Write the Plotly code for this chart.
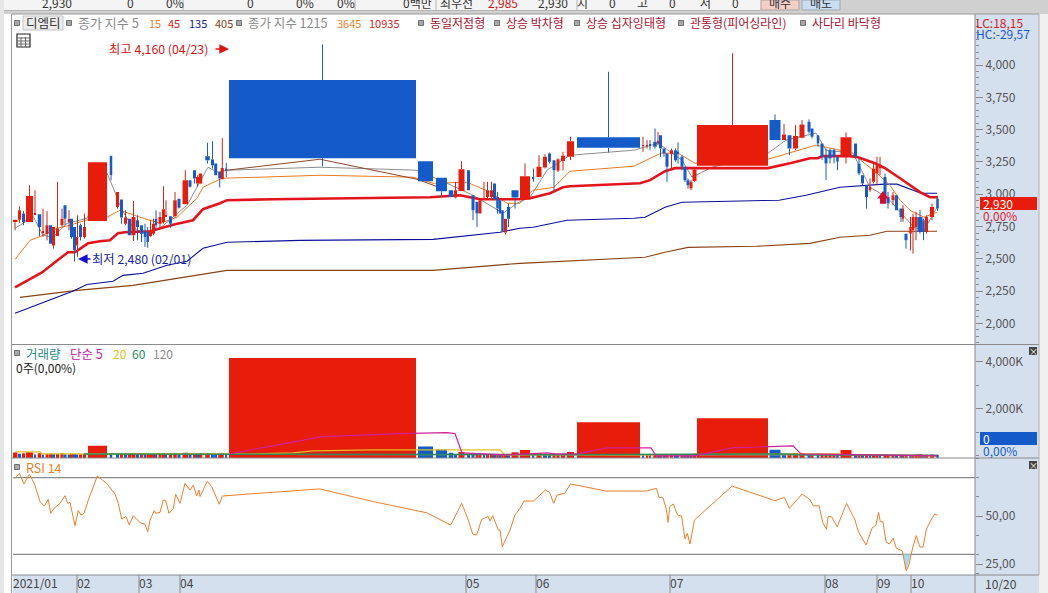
import plotly.graph_objects as go

# ---------- candle data (equivolume axis position, width, OHLC, volume in K) ----------
eq_x = [15,19.5,23.5,29.5,35,39.5,43,47,50.5,53.5,57.5,62,65,69,71.5,74.5,77.5,80.5,84.5,97.5,
        111,117.5,121.5,125.5,129.5,133.5,137.5,141.5,145,147.7,150.5,153.5,156,160,163.5,166,170.5,175,179,185.3,
        190,194.5,197.5,200.5,207.5,212.5,215.7,219.7,222.3,226.3,322.5,425.5,441.5,451,455.5,461.5,468.5,473,477,480,
        484,487.5,491.5,494.5,497.5,500,502.5,505.5,508.5,515,525,533.5,539,545,549.5,554,558,563,570.5,608.5,
        643,647,650,655,658,660.5,664,667,671.5,675.5,678,682,685,688,691,694.5,732.5,775,784,789.5,
        795.5,802,809,812,818,822,826,830,834,837.5,846,855.5,859,862.5,866.5,870,873.5,877,880,885,
        888,893,896.5,901,903,906,910.5,913,916,920,923.5,926.5,932,937.5]
eq_w = [5,3,3,7,1,3.5,1,3,3,3,3,3,3,2.5,3,3,1.5,3,3,19,
        2.5,3,3,3,3.5,4,3,3,2.5,2.5,3,3,2.5,3,3,1,3,3.5,3,5.5,
        3,3,3,3.5,4.5,3,3,3,3,1.5,187,15,11,4.5,3,6,3,3,3,3,
        1.5,3,3,3,2.5,2.5,2.5,3,3,7,10,1.5,5,4,3,3,3,4,7,63,
        2,2,2,3.5,1,3,3,3,3,3,1.5,3,3,3,3,4,71,11,4,4,
        5,5,3,3,2.5,3,3,3,3,2.5,11,3,3,3,3,2.5,3,3,2,3,
        3,3,3,3,2,3,2.5,2.5,3,5,2.5,3,4,2.5]
price_open = [2785,2803,2850,2785,2845,2845,2700,2690,2760,2604,2677,2760,2915,2785,2811,2747,2604,2760,2669,2793,
        3297,2902,2959,2772,2811,2682,2798,2760,2708,2708,2674,2695,2811,2772,2785,2830,2829,2829,2966,2922,
        3108,3186,3083,3083,3294,3269,3238,3173,3116,3199,3884,3256,3127,3031,2974,3026,3186,2992,2941,2850,
        2960,2979,2979,3083,2979,2954,2876,2703,2902,3031,2959,3130,3134,3207,3315,3264,3181,3258,3290,3442,
        3375,3375,3385,3406,3400,3457,3354,3315,3310,3341,3330,3290,3212,3109,3044,3103,3220,3574,3419,3457,
        3354,3437,3561,3509,3457,3393,3290,3341,3341,3290,3302,3393,3238,3147,3070,3031,3096,3160,3199,3134,
        2979,2954,2992,2889,2811,2695,2695,2721,2747,2824,2799,2708,2824,2967]
price_high = [2803,2907,2871,3070,3031,2845,2889,2868,2760,2747,3095,2889,2915,2876,2811,2747,2837,2772,2850,3248,
        3297,3018,2959,2876,2811,2948,2837,2760,2772,2747,2798,2811,2876,2863,3062,2953,2829,3018,2966,3186,
        3108,3186,3147,3160,3398,3411,3238,3173,3434,3243,4160,3256,3127,3031,3096,3256,3186,2992,2941,2954,
        3096,3096,3096,3083,3018,2954,2876,2811,2928,3031,3238,3199,3302,3310,3323,3264,3277,3328,3445,3948,
        3445,3419,3419,3509,3483,3457,3354,3315,3354,3354,3401,3302,3212,3122,3109,3199,4091,3618,3543,3457,
        3535,3574,3579,3509,3457,3393,3354,3354,3354,3290,3478,3393,3277,3147,3070,3122,3238,3290,3290,3160,
        3018,3018,2992,2889,2915,2695,2824,2850,2863,2876,2811,2837,2928,2979]
price_low = [2721,2778,2760,2785,2837,2674,2669,2643,2617,2579,2677,2747,2760,2721,2656,2480,2515,2643,2656,2793,
        3108,2889,2772,2760,2682,2638,2643,2630,2592,2586,2669,2682,2721,2734,2772,2824,2741,2819,2889,2922,
        3052,3083,3057,3078,3238,3199,3147,3052,3116,3134,3217,3101,2979,2979,2967,3026,3031,2799,2747,2850,
        2954,2961,2961,2954,2850,2850,2708,2690,2747,2889,2959,3096,3134,3199,3238,3018,3173,3186,3264,3323,
        3328,3354,3341,3354,3380,3290,3290,3096,3186,3251,3238,3186,3096,3044,3031,3096,3220,3419,3419,3302,
        3341,3432,3470,3432,3367,3264,3109,3238,3238,3186,3238,3277,3147,3070,2889,3018,3083,3070,3147,2979,
        2889,2915,2876,2786,2786,2579,2566,2540,2644,2695,2644,2695,2799,2871]
price_close = [2803,2876,2785,2987,2845,2747,2710,2760,2617,2747,2734,2811,2811,2811,2669,2566,2669,2669,2747,3248,
        3147,3018,2819,2819,2682,2824,2747,2695,2669,2630,2721,2772,2760,2824,2884,2840,2772,2953,2896,3108,
        3057,3121,3134,3160,3263,3225,3147,3121,3204,3186,3279,3101,3023,2979,3031,3194,3031,2876,2850,2954,
        2965,3031,3031,2961,2889,2850,2708,2811,2811,2974,3140,3120,3212,3290,3251,3186,3271,3297,3411,3359,
        3380,3380,3375,3367,3410,3354,3315,3212,3341,3264,3310,3212,3109,3070,3096,3191,3535,3419,3463,3354,
        3450,3540,3483,3445,3393,3290,3238,3277,3290,3251,3442,3290,3160,3083,2979,3057,3199,3225,3225,2992,
        2928,2992,2876,2824,2889,2644,2747,2824,2824,2708,2708,2824,2902,2889]
volume_k = [140,90,110,150,60,110,60,80,90,80,80,110,70,60,90,80,60,70,90,430,
        100,90,100,70,90,110,80,90,60,60,70,80,60,90,100,50,90,110,70,130,
        60,90,70,110,110,70,60,70,120,50,4160,400,270,130,60,170,90,60,70,80,
        40,60,70,60,70,60,70,70,60,150,250,40,110,60,50,70,70,80,170,1430,
        30,30,40,60,20,70,60,70,70,50,30,60,50,60,40,90,1600,260,90,90,
        120,120,70,70,60,60,60,70,70,50,250,70,70,60,60,40,50,50,30,50,
        50,50,40,50,40,50,40,50,60,70,40,50,60,50]

# ---------- moving averages of price ----------
ma5_x = [15,25,30,43,53,67,87,107,115,122,133,147,160,173,187,197,208,217,227,320,417,447,473,503,517,530,547,570,634,658,682,692,712,768,786,816,826,853,863,870,887,901,914,924,937]
ma5_y = [2737,2783,2876,2682,2667,2775,2814,3163,3016,2876,2744,2682,2737,2822,2915,3054,3209,3171,3186,3209,3186,3085,2992,2853,2930,2977,3186,3302,3341,3395,3264,3132,3209,3318,3419,3473,3341,3318,3163,3054,2977,2853,2744,2721,2899]
ma15_x = [15,30,43,57,70,87,107,120,140,160,177,197,203,222,260,320,413,433,467,490,507,520,533,554,570,634,661,678,695,768,816,840,857,877,890,900,910,924,937]
ma15_y = [2496,2643,2682,2737,2760,2802,2822,2876,2822,2775,2822,2969,3054,3124,3132,3147,3132,3085,3093,3016,2930,2930,3031,3054,3178,3217,3318,3318,3240,3271,3380,3341,3287,3163,3070,2954,2876,2822,2861]
ma45_x = [15,22,30,42,55,68,75,88,100,110,118,125,150,175,193,203,220,227,273,320,416,430,460,480,500,519,530,550,563,570,640,650,665,675,697,768,790,810,818,822,850,858,875,885,900,912,920,930,938]
ma45_y = [2279,2310,2341,2395,2473,2551,2551,2620,2636,2644,2698,2706,2713,2768,2799,2884,2930,2954,2961,2965,2977,2977,2992,2961,2961,2961,2969,3008,3054,3062,3085,3109,3178,3202,3202,3202,3240,3279,3279,3295,3295,3287,3240,3202,3124,3062,3016,2977,2977]
ma135_x = [15,52,72,87,113,123,143,167,187,203,227,300,433,500,520,533,567,634,645,665,682,779,806,840,884,897,921,937]
ma135_y = [2078,2186,2248,2302,2326,2372,2388,2450,2481,2582,2628,2643,2651,2706,2737,2744,2799,2814,2822,2899,2938,2954,2992,3054,3078,3078,3008,3008]
ma405_x = [20,77,133,200,227,433,500,520,645,665,688,756,810,840,870,887,937]
ma405_y = [2202,2256,2295,2380,2411,2411,2450,2465,2512,2551,2589,2597,2620,2667,2682,2713,2713]
brown_x = [227,320,417,447]
brown_y = [3186,3271,3116,3031]

# ---------- moving averages of volume (K) ----------
vma5_x = [230,322,400,447,455,462,505,537,547,555,577,607,651,656,695,732,793,801,937]
vma5_y = [86,815,944,987,944,130,40,130,130,86,86,343,343,0,0,343,429,86,0]
vma20_x = [15,40,42,57,253,293,313,373,500,505,640,801,838,845,937]
vma20_y = [170,170,85,85,85,130,215,257,257,40,40,85,85,40,0]
vma60_x = [84,250,300,555,786,800,937]
vma60_y = [85,60,70,50,85,50,20]
vma120_x = [297,500,640,937]
vma120_y = [50,50,40,30]

# ---------- RSI ----------
rsi_x = [15,19.3,24,29.3,34.3,40,44.3,48.3,50.7,54,60,65,67.7,70,75,78.3,81,84,88.3,97.3,106.7,115,118.3,121.7,126,129.3,133.3,140,145,147.7,150,154.3,155.7,160,163.3,165.7,169,173.3,175.7,180,185,190,193.3,196.7,199,200,207.3,211.7,219.3,222.3,250,286.7,320,373.3,426.7,450.7,461.7,468.3,472.7,476.7,481.7,488.3,490,492.7,498.3,500,502.3,510,515,520,
         524,533.5,545.3,549.6,553.7,557,564.8,570.5,605.9,646.3,651.3,656.4,659,663,666.5,668.1,669.8,673.2,677.6,681.6,685,687.3,690,694.4,732.1,774.9,784.3,789.4,802.2,809.6,813.6,819,823,826.4,828.1,831.4,837.2,846.6,855,858.4,866.1,871.9,875.9,878.6,880.3,883,886,889.4,893.1,896.4,902.2,906.2,908.9,912.9,916.3,919.7,923,926.4,932.5,934.8,937.5]
rsi_y = [69.6,72.2,66.7,71.7,67.0,57.5,55.2,58.7,51.4,54.0,56.6,60.6,56.6,57.1,45.0,52.8,50.5,51.4,58.3,70.8,67.0,61.5,56.6,48.4,49.7,45.3,50.2,46.5,45.7,41.8,47.9,52.8,51.4,51.9,58.3,58.0,51.4,54.0,61.3,56.6,67.0,63.5,66.1,60.4,63.5,60.1,68.1,65.3,56.1,60.4,61.5,63.0,64.1,57.5,51.7,45.3,56.6,47.9,40.6,40.1,48.3,49.7,47.4,50.2,42.7,42.7,34.0,42.7,50.5,54.0,
         57.8,57.8,63.5,62.3,56.6,60.9,61.8,66.7,63.0,63.0,63.5,64.4,59.7,59.5,53.1,46.7,54.9,56.3,50.5,50.0,38.0,41.0,35.4,47.9,65.6,58.0,59.7,54.0,61.5,58.7,55.2,55.4,46.2,43.1,49.7,49.7,44.4,56.6,47.9,41.8,34.9,43.6,45.3,51.9,47.0,47.0,36.6,35.4,38.4,33.2,31.9,21.5,24.5,34.0,39.8,34.0,33.7,43.2,49.3,51.0,50.5]
rsi_low_x = [903,906.2,911]
rsi_low_y = [30,21.5,30]
rsi_levels = [70,30]

# ---------- axes ----------
price_ticks = [2000,2250,2500,2750,3000,3250,3500,3750,4000]
vol_ticks = [2000,4000]
vol_labels = ["2,000K","4,000K"]
rsi_ticks = [25,50]
rsi_labels = ["25,00","50,00"]
month_ticks = [13,77,139,180,466,536,670,825,877,911]
month_labels = ["2021/01","02","03","04","05","06","07","08","09","10"]
signal_x = [883]
signal_y = [2950]
signal_head_y = [2987]

assert len(eq_x)==len(eq_w)==len(price_open)==len(price_high)==len(price_low)==len(price_close)==len(volume_k)
assert len(rsi_x)==len(rsi_y) and len(ma5_x)==len(ma5_y) and len(ma15_x)==len(ma15_y) and len(ma45_x)==len(ma45_y)

UP, DOWN = "#e71c0a", "#145ac8"
W, H = 1048, 593
PX = lambda x: x / W
PY = lambda y: 1 - y / H
FONT = "Noto Sans CJK KR"
PANEL = "#d5e0ef"
LINE = "#8e8e8e"

fig = go.Figure()

def wick(sel, color):
    xs, ys = [], []
    for i in sel:
        top, bottom = max(price_open[i], price_close[i]), min(price_open[i], price_close[i])
        if price_high[i] > top:
            xs += [eq_x[i], eq_x[i], None]
            ys += [top, price_high[i], None]
        if price_low[i] < bottom:
            xs += [eq_x[i], eq_x[i], None]
            ys += [price_low[i], bottom, None]
    fig.add_trace(go.Scatter(x=xs, y=ys, mode="lines", line=dict(color=color, width=1), xaxis="x", yaxis="y4", hoverinfo="skip"))

# price moving averages are drawn beneath the candles
for xs, ys, c, w in [(ma405_x, ma405_y, "#8a4213", 1.1), (ma135_x, ma135_y, "#0a0f9c", 1.1),
                     (ma15_x, ma15_y, "#e87a20", 1), (ma5_x, ma5_y, "#8c8c8c", 1),
                     (brown_x, brown_y, "#8a4a2a", 1), (ma45_x, ma45_y, "#e3141c", 2.6)]:
    fig.add_trace(go.Scatter(x=xs, y=ys, mode="lines", line=dict(color=c, width=w), xaxis="x", yaxis="y", hoverinfo="skip"))

colors = [UP if c >= o else DOWN for o, c in zip(price_open, price_close)]
fig.add_trace(go.Bar(x=eq_x, width=eq_w, base=[min(o, c) for o, c in zip(price_open, price_close)],
                     y=[max(abs(c - o), 6) for o, c in zip(price_open, price_close)],
                     marker=dict(color=colors, line=dict(width=0)), xaxis="x", yaxis="y4", hoverinfo="skip"))
wick([i for i, c in enumerate(colors) if c == UP], "#c8281a")
wick([i for i, c in enumerate(colors) if c == DOWN], "#1a5fb4")
fig.add_trace(go.Scatter(x=signal_x, y=signal_y, mode="markers", marker=dict(symbol="square", size=6, color="#d10f2c"), xaxis="x", yaxis="y4", hoverinfo="skip"))
fig.add_trace(go.Scatter(x=signal_x, y=signal_head_y, mode="markers", marker=dict(symbol="triangle-up", size=10, color="#d10f2c"), xaxis="x", yaxis="y4", hoverinfo="skip"))

# volume
FLOOR = -90
vcolors = [UP if i == 0 or volume_k[i] >= volume_k[i - 1] else DOWN for i in range(len(volume_k))]
fig.add_trace(go.Bar(x=eq_x, width=eq_w, base=FLOOR, y=[v - FLOOR for v in volume_k],
                     marker=dict(color=vcolors, line=dict(width=0)), xaxis="x2", yaxis="y2", hoverinfo="skip"))
for xs, ys, c, w in [(vma120_x, vma120_y, "#8c8c8c", 1), (vma20_x, vma20_y, "#e0c020", 1.2),
                     (vma60_x, vma60_y, "#2a8a5a", 1.5), (vma5_x, vma5_y, "#d0209a", 1.2)]:
    fig.add_trace(go.Scatter(x=xs, y=ys, mode="lines", line=dict(color=c, width=w), xaxis="x2", yaxis="y2", hoverinfo="skip"))

# RSI
fig.add_trace(go.Scatter(x=rsi_low_x, y=rsi_low_y, mode="lines", fill="toself", fillcolor="#a8d8ea", line=dict(width=0), xaxis="x3", yaxis="y3", hoverinfo="skip"))
fig.add_trace(go.Scatter(x=rsi_x, y=rsi_y, mode="lines", line=dict(color="#e8802a", width=1), xaxis="x3", yaxis="y3", hoverinfo="skip"))

shapes = []
def rect(x0, y0, x1, y1, fill, line=None, layer="below", lw=1):
    shapes.append(dict(type="rect", xref="paper", yref="paper", x0=PX(x0), x1=PX(x1), y0=PY(y0), y1=PY(y1),
                       fillcolor=fill, line=dict(color=line or fill, width=lw if line else 0), layer=layer))
def hline(x0, x1, y, color=LINE, layer="above", lw=1):
    shapes.append(dict(type="line", xref="paper", yref="paper", x0=PX(x0), x1=PX(x1), y0=PY(y), y1=PY(y), line=dict(color=color, width=lw), layer=layer))
def vline(x, y0, y1, color=LINE, layer="above", lw=1):
    shapes.append(dict(type="line", xref="paper", yref="paper", x0=PX(x), x1=PX(x), y0=PY(y0), y1=PY(y1), line=dict(color=color, width=lw), layer=layer))

# window chrome
rect(0, 0, W, 14, "#d0d0d0")
rect(0, 0, 761, 10, "#f4f4f4")
rect(761, 0, 799, 10, "#f3cfc6", "#b0a0a0")
rect(802, 0, 840, 10, "#c9def2", "#a0a8b0")
for x in [183, 355, 436, 577]:
    vline(x, 0, 10, "#b4b4b4", "below")
hline(0, 761, 10.5, "#b4b4b4", "below")
rect(0, 0, 4, H, "#e6e6e6")
rect(975, 14, 1039, 575, PANEL)
rect(13, 575, 1039, H, PANEL)
rect(1039, 14, W, H, "#f0f0f0")
vline(11.5, 14, H, "#9a9a9a")
hline(12, 1039, 14, "#9a9a9a")
hline(12, 1039, 344.5, "#8a8a8a")
hline(12, 1039, 458, "#8a8a8a")
hline(12, 1039, 575, "#8a8a8a")
vline(975, 14, H, "#8a8a8a")
vline(1039, 14, 575, "#b0b0b0")

# RSI levels and month dividers through the library's axes
for lv in rsi_levels:
    shapes.append(dict(type="line", xref="paper", yref="y3", x0=PX(13), x1=PX(975), y0=lv, y1=lv, line=dict(color="#8a8a8a", width=1.2), layer="below"))
for m in month_ticks[1:]:
    shapes.append(dict(type="line", xref="x3", yref="paper", x0=m, x1=m, y0=PY(575), y1=0, line=dict(color="#8a8a8a", width=1), layer="above"))

# small squares in the legends
for x, y in [(17, 23), (69, 23), (239, 23), (421, 23), (497, 23), (577, 23), (681, 23), (803, 23), (17, 353), (17, 467)]:
    rect(x - 2.5, y - 2.5, x + 2.5, y + 2.5, "#a8a8a8", "#707070", "above")
rect(23, 16, 63, 30, "#ececec", "#c4c4c4", "below")
# table icon
rect(17, 34, 30, 47, "#ffffff", "#222222", "above", 1.2)
for x in [21, 25.5]:
    vline(x, 37, 47, "#666666")
for y in [38, 41, 44]:
    hline(17, 30, y, "#666666")
# price and volume tags
rect(980, 197, 1037, 210, "#e71c0a", None, "above")
rect(980, 432, 1037, 445, "#145ac8", None, "above")
# pane close buttons
for y in [351, 465]:
    rect(1029, y - 4, 1037, y + 4, "#444444", None, "above")

ann = []
def T(x, y, text, color="#444444", size=12, anchor="left"):
    if anchor == "left":
        x -= 1
    ann.append(dict(xref="paper", yref="paper", x=PX(x), y=PY(y), text=text, showarrow=False, xanchor=anchor, yanchor="middle",
                    font=dict(color=color, size=size, family=FONT), borderpad=0, captureevents=False))

# header, clipped by the window top
for x, t, c in [(57, "2,930", "#333"), (130, "0", "#333"), (175, "0%", "#333"), (250, "0", "#333"), (305, "0%", "#333"), (346, "0%", "#333"),
                (417, "0백만", "#333"), (456, "최우선", "#333"), (503, "2,985", "#d01010"), (553, "2,930", "#333"),
                (582, "시", "#333"), (612, "0", "#333"), (642, "고", "#333"), (672, "0", "#333"), (705, "저", "#333"), (735, "0", "#333"),
                (780, "매수", "#333"), (821, "매도", "#333")]:
    T(x, 2, t, c, 12, "center")

T(26, 23, "디엠티", "#333333", 12.5)
T(78, 23, "종가 지수 5", "#8a8a8a", 13)
T(149, 23, "15", "#e8842a", 11)
T(168, 23, "45", "#d01c1c", 11)
T(189, 23, "135", "#101c90", 11)
T(215, 23, "405", "#8a4213", 11)
T(248, 23, "종가 지수 1215", "#8a8a8a", 12.5)
T(337, 23, "3645", "#e8842a", 11)
T(369, 23, "10935", "#d01c1c", 11)
for x, t in [(430, "동일저점형"), (506, "상승 박차형"), (586, "상승 십자잉태형"), (690, "관통형(피어싱라인)"), (812, "사다리 바닥형")]:
    T(x, 23, t, "#a8102c")
T(109, 49, "최고 4,160 (04/23)", "#d01414", 12.3)
T(92, 259, "최저 2,480 (02/01)", "#1424a0", 12.3)
for x0, x1, y, c in [(214, 229, 49, "#e01010"), (92, 78, 259, "#1010d0")]:
    ann.append(dict(xref="paper", yref="paper", x=PX(x1), y=PY(y), ax=x0 - x1, ay=0, text="",
                    showarrow=True, arrowhead=2, arrowsize=1.2, arrowwidth=1.6, arrowcolor=c))
T(976, 22, "LC:18,15", "#d01c1c")
T(976, 34, "HC:-29,57", "#145ac8")
T(983, 203, "2,930", "#ffffff")
T(983, 215, "0,00%", "#e8202a")
T(983, 438, "0", "#ffffff")
T(983, 450, "0,00%", "#145ac8")
T(26, 353, "거래량", "#2a8a80", 12.5)
T(70, 353, "단순 5", "#c020a0", 12.5)
T(113, 353, "20", "#e0c020")
T(132, 353, "60", "#2a8a5a")
T(153, 353, "120", "#8a8a8a")
T(16, 367, "0주(0,00%)", "#222222")
T(26, 467, "RSI 14", "#e8802a", 12.5)
T(985, 583, "10/20", "#444444")
for y in [351, 465]:
    T(1033, y, "×", "#ffffff", 9, "center")

def xax(**k):
    return dict(domain=[PX(13), PX(975)], range=[13, 975], showgrid=False, zeroline=False, fixedrange=True, **k)
def yax(**k):
    return dict(side="right", showgrid=False, zeroline=False, fixedrange=True, showline=False, ticks="outside", tickcolor="#8a8a8a",
                ticklen=7, tickfont=dict(family=FONT, size=12, color="#555555"), **k)

PRICE_RANGE = [1837, 4395]
fig.update_layout(
    width=W, height=H, autosize=False, margin=dict(l=0, r=0, t=0, b=0), showlegend=False,
    paper_bgcolor="white", plot_bgcolor="rgba(0,0,0,0)", barmode="overlay", hovermode=False,
    shapes=shapes, annotations=ann,
    xaxis=xax(anchor="y", visible=False),
    xaxis2=xax(anchor="y2", visible=False),
    xaxis3=xax(anchor="y3", tickmode="array", tickvals=month_ticks, ticktext=month_labels, ticks="", ticklen=0,
               ticklabelposition="outside right", tickfont=dict(family=FONT, size=12, color="#444444"), showline=False),
    yaxis=yax(domain=[PY(344.5), PY(14)], range=PRICE_RANGE, anchor="x", tickmode="array", tickvals=price_ticks, tickformat=",",
              minor=dict(ticks="outside", ticklen=3, tickcolor="#8a8a8a", dtick=50)),
    yaxis2=yax(domain=[PY(458), PY(344.5)], range=[FLOOR, 4730], anchor="x2", tickmode="array", tickvals=vol_ticks, ticktext=vol_labels,
               minor=dict(ticks="outside", ticklen=3, tickcolor="#8a8a8a", dtick=1000)),
    yaxis3=yax(domain=[PY(575), PY(458)], range=[19.3, 80.2], anchor="x3", tickmode="array", tickvals=rsi_ticks, ticktext=rsi_labels,
               minor=dict(ticks="outside", ticklen=3, tickcolor="#8a8a8a", dtick=10)),
    yaxis4=dict(overlaying="y", range=PRICE_RANGE, visible=False, fixedrange=True, anchor="x"),
)

fig.write_html("out.html", post_script="document.body.style.margin='0';document.body.style.overflow='hidden';",
               config=dict(displayModeBar=False))
